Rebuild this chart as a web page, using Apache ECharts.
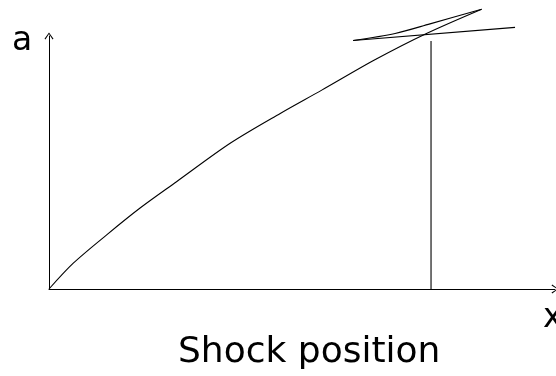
<!DOCTYPE html>
<html>
<head>
<meta charset="utf-8">
<script src="https://cdn.jsdelivr.net/npm/echarts@6/dist/echarts.min.js"></script>
<style>
  html, body { margin: 0; padding: 0; background: #fff; }
  #chart { width: 556px; height: 376px; }
</style>
</head>
<body>
<div id="chart"></div>
<script>
// shock trajectory a(x) (arbitrary units)
const curveX = [0, 0.48, 1.14, 1.80, 2.52, 3.58, 4.57, 5.39, 6.44, 7.46, 8.55];
const curveY = [0, 0.51, 1.07, 1.60, 2.12, 2.88, 3.47, 3.93, 4.53, 5.05, 5.53];

// second branch near the top
const branchX = [6.01, 6.84, 7.53, 8.55];
const branchY = [4.91, 5.05, 5.24, 5.53];

// straight line through the crossing
const tangentX = [6.01, 9.21];
const tangentY = [4.91, 5.17];

// shock position marker
const shockX = [7.55, 7.55];
const shockY = [0, 4.90];

const axisName = { y: 'a', x: 'x' };
const xLabel = 'Shock position';

function zip(xs, ys) {
    return xs.map((x, i) => [x, ys[i]]);
}

// open chevron, pointing up
const chevron = 'path://M5,0 L10,7 L9,7.8 L5,1.6 L1,7.8 L0,7 Z';

const chart = echarts.init(document.getElementById('chart'));

function lineSeries(data, smooth) {
    return {
        type: 'line',
        data: data,
        showSymbol: false,
        clip: false,
        silent: true,
        smooth: smooth || false,
        lineStyle: { color: '#000', width: 1.1 }
    };
}

chart.setOption({
    animation: false,
    grid: { left: 49, right: 1, top: 36, bottom: 87 },
    xAxis: {
        type: 'value',
        min: 0,
        max: 10,
        axisLine: {
            show: true,
            symbol: ['none', chevron],
            symbolSize: [11, 7],
            lineStyle: { color: '#000', width: 1 }
        },
        axisTick: { show: false },
        axisLabel: { show: false },
        splitLine: { show: false }
    },
    yAxis: {
        type: 'value',
        min: 0,
        max: 5,
        axisLine: {
            show: true,
            symbol: ['none', chevron],
            symbolSize: [10, 7],
            lineStyle: { color: '#000', width: 1 }
        },
        axisTick: { show: false },
        axisLabel: { show: false },
        splitLine: { show: false }
    },
    graphic: [
        {
            type: 'text', left: 12, top: 25,
            style: { text: axisName.y, font: '33px "DejaVu Sans"', fill: '#000' }
        },
        {
            type: 'text', left: 543, top: 302,
            style: { text: axisName.x, font: '33px "DejaVu Sans"', fill: '#000' }
        },
        {
            type: 'text', left: 178, top: 335,
            style: { text: xLabel, font: '36px "DejaVu Sans"', fill: '#000' }
        }
    ],
    series: [
        lineSeries(zip(curveX, curveY), 0.3),
        lineSeries(zip(branchX, branchY), 0.3),
        lineSeries(zip(tangentX, tangentY)),
        lineSeries(zip(shockX, shockY))
    ]
});
</script>
</body>
</html>
